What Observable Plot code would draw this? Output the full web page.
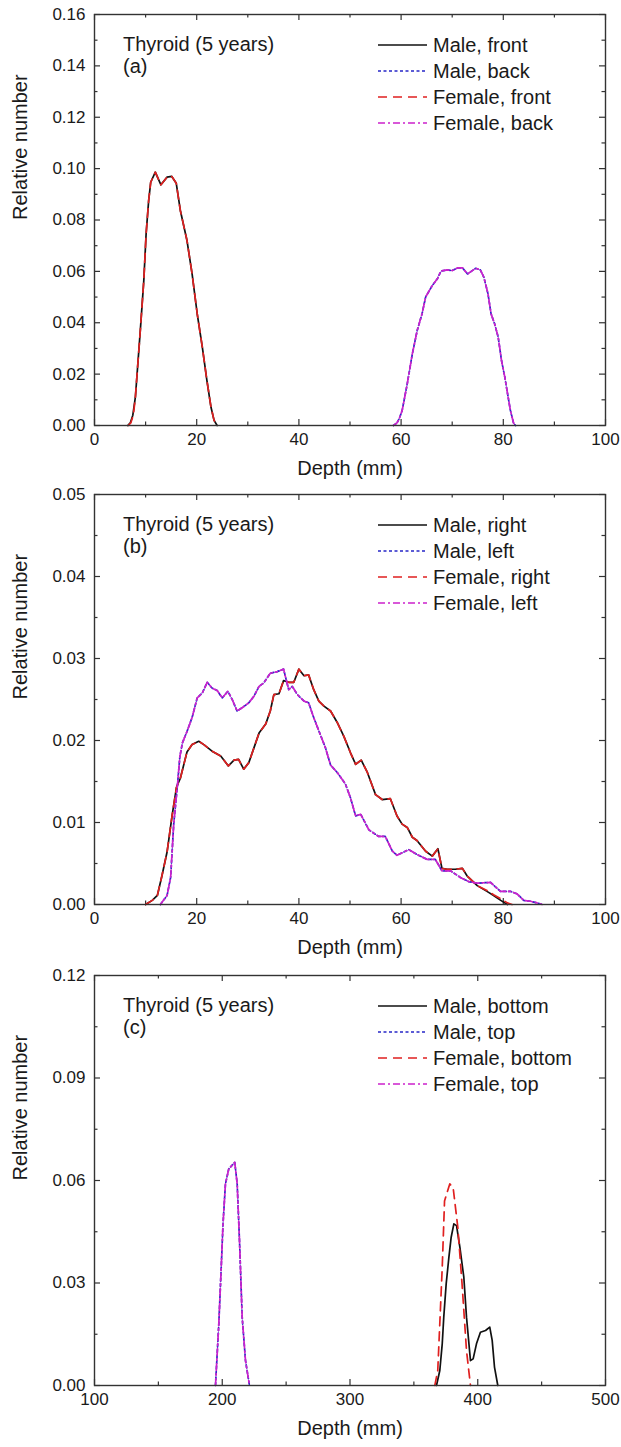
<!DOCTYPE html>
<html><head><meta charset="utf-8">
<script src="https://cdn.jsdelivr.net/npm/d3@7"></script>
<script src="https://cdn.jsdelivr.net/npm/@observablehq/plot@0.6"></script>
<style>
html,body{margin:0;padding:0;background:#fff;}
#chart svg{display:block;}
</style></head><body><div id="chart"></div>
<script>
const FONT = "Arial, 'Liberation Sans', Helvetica, sans-serif";

// ---------- text ----------
const panelTitle = "Thyroid (5 years)";
const panelTags = ["(a)", "(b)", "(c)"];
const legendA = ["Male, front", "Male, back", "Female, front", "Female, back"];
const legendB = ["Male, right", "Male, left", "Female, right", "Female, left"];
const legendC = ["Male, bottom", "Male, top", "Female, bottom", "Female, top"];
const xTitle = "Depth (mm)";
const yTitle = "Relative number";

// ---------- ticks ----------
const xMajorAB = [0, 20, 40, 60, 80, 100];
const xMinorAB = [10, 30, 50, 70, 90];
const yMajorA = [0, 0.02, 0.04, 0.06, 0.08, 0.10, 0.12, 0.14, 0.16];
const yMinorA = [0.01, 0.03, 0.05, 0.07, 0.09, 0.11, 0.13, 0.15];
const yMajorB = [0, 0.01, 0.02, 0.03, 0.04, 0.05];
const yMinorB = [0.005, 0.015, 0.025, 0.035, 0.045];
const xMajorC = [100, 200, 300, 400, 500];
const xMinorC = [150, 250, 350, 450];
const yMajorC = [0, 0.03, 0.06, 0.09, 0.12];
const yMinorC = [0.015, 0.045, 0.075, 0.105];

// ---------- data: [depth mm, relative number] ----------
const aMaleFront = [[6.5,0],[7.0,0.001],[7.5,0.004],[8.0,0.011],[9.0,0.038],[9.65,0.0565],[10.1,0.0746],[10.6,0.0876],[11.0,0.0947],[11.9,0.0986],[13.0,0.0937],[14.2,0.0967],[15.1,0.097],[16.0,0.0943],[16.8,0.0837],[18.1,0.072],[19.1,0.059],[20.1,0.0435],[21.1,0.0305],[22.0,0.0175],[22.8,0.0071],[23.4,0.002],[24.0,0]];
const aFemaleFront = [[6.6,0],[7.1,0.001],[7.6,0.004],[8.0,0.011],[9.0,0.038],[9.65,0.0565],[10.1,0.0746],[10.6,0.0876],[11.0,0.0947],[11.9,0.0986],[13.0,0.0937],[14.2,0.0967],[15.1,0.097],[16.0,0.0943],[16.8,0.0837],[18.1,0.072],[19.1,0.059],[20.1,0.0435],[21.1,0.0305],[22.0,0.0175],[22.8,0.0071],[23.4,0.002],[24.0,0]];
const aMaleBack = [[58.5,0],[59.2,0.001],[59.7,0.003],[60.2,0.0058],[61.2,0.0162],[62.2,0.0279],[63.15,0.037],[64.1,0.0435],[64.8,0.05],[66.1,0.0545],[67.1,0.0571],[67.8,0.0601],[69.0,0.0606],[70.0,0.0603],[71.1,0.0614],[72.0,0.0614],[73.0,0.059],[74.6,0.0612],[75.5,0.0606],[76.2,0.0577],[77.0,0.0513],[77.6,0.0435],[78.3,0.0396],[79.0,0.0344],[79.65,0.0253],[80.3,0.0188],[80.95,0.011],[81.4,0.0058],[82.0,0.001],[82.4,0]];
const aFemaleBack = [[58.5,0],[59.2,0.001],[59.7,0.003],[60.2,0.0058],[61.2,0.0162],[62.2,0.0279],[63.15,0.037],[64.1,0.0435],[64.8,0.05],[66.1,0.0545],[67.1,0.0571],[67.8,0.0601],[69.0,0.0606],[70.0,0.0603],[71.1,0.0614],[72.0,0.0614],[73.0,0.059],[74.6,0.0612],[75.5,0.0606],[76.2,0.0577],[77.0,0.0513],[77.6,0.0435],[78.3,0.0396],[79.0,0.0344],[79.65,0.0253],[80.3,0.0188],[80.95,0.011],[81.4,0.0058],[82.0,0.001],[82.4,0]];

const bMaleRight = [[10.0,0],[11.3,0.0005],[12.3,0.0011],[13.2,0.0035],[14.2,0.0064],[15.2,0.0109],[16.05,0.0143],[16.8,0.0154],[18.1,0.0186],[19.1,0.0195],[20.4,0.0199],[21.4,0.0195],[23.0,0.0187],[24.7,0.0181],[26.2,0.0169],[27.3,0.0176],[28.2,0.0177],[29.2,0.0165],[30.2,0.0173],[31.2,0.0191],[32.2,0.0209],[33.5,0.022],[34.4,0.0236],[35.1,0.0256],[36.1,0.0257],[37.0,0.0273],[38.0,0.0271],[39.0,0.0271],[40.0,0.0287],[41.0,0.0279],[41.9,0.028],[42.9,0.0262],[43.9,0.0248],[44.9,0.0242],[46.2,0.0236],[47.5,0.0222],[48.8,0.0205],[50.1,0.0185],[51.1,0.0171],[52.2,0.0176],[53.4,0.0161],[55.0,0.0134],[56.3,0.0128],[57.9,0.0129],[59.2,0.0108],[60.2,0.0098],[61.2,0.0094],[62.2,0.0082],[63.1,0.0078],[64.8,0.0065],[66.1,0.0059],[67.2,0.0068],[68.0,0.0044],[69.0,0.0043],[70.6,0.0043],[72.0,0.0044],[72.9,0.0035],[74.9,0.0023],[76.8,0.0016],[78.1,0.0011],[79.5,0.0005],[80.8,0]];
const bFemaleRight = [[10.0,0],[11.3,0.0005],[12.3,0.0011],[13.2,0.0035],[14.2,0.0064],[15.2,0.0109],[16.05,0.0143],[16.8,0.0154],[18.1,0.0186],[19.1,0.0195],[20.4,0.0199],[21.4,0.0195],[23.0,0.0187],[24.7,0.0181],[26.2,0.0169],[27.3,0.0176],[28.2,0.0177],[29.2,0.0165],[30.2,0.0173],[31.2,0.0191],[32.2,0.0209],[33.5,0.022],[34.4,0.0236],[35.1,0.0256],[36.1,0.0257],[37.0,0.0273],[38.0,0.0271],[39.0,0.0271],[40.0,0.0287],[41.0,0.0279],[41.9,0.028],[42.9,0.0262],[43.9,0.0248],[44.9,0.0242],[46.2,0.0236],[47.5,0.0222],[48.8,0.0205],[50.1,0.0185],[51.1,0.0171],[52.2,0.0176],[53.4,0.0161],[55.0,0.0134],[56.3,0.0128],[57.9,0.0129],[59.2,0.0108],[60.2,0.0098],[61.2,0.0094],[62.2,0.0082],[63.1,0.0078],[64.8,0.0065],[66.1,0.0059],[67.2,0.0068],[68.0,0.0044],[69.0,0.0043],[70.6,0.0043],[72.0,0.0044],[72.9,0.0035],[74.9,0.0023],[76.8,0.0017],[78.1,0.0012],[79.5,0.0007],[80.8,0.0002],[81.7,0]];
const bMaleLeft = [[12.9,0],[14.2,0.0011],[14.9,0.0033],[15.5,0.0098],[16.2,0.0143],[16.7,0.018],[17.2,0.0197],[18.1,0.0211],[19.1,0.0228],[20.1,0.0252],[21.1,0.0258],[22.05,0.0271],[23.0,0.0264],[24.0,0.0261],[25.0,0.0252],[26.1,0.026],[26.95,0.025],[27.9,0.0236],[28.9,0.024],[30.2,0.0246],[31.2,0.0254],[32.2,0.0266],[33.1,0.027],[34.4,0.0282],[35.75,0.0284],[37.0,0.0287],[38.0,0.0262],[38.7,0.0266],[39.7,0.0256],[41.0,0.0248],[41.9,0.0246],[42.9,0.0228],[44.2,0.0207],[45.2,0.0191],[46.2,0.017],[47.5,0.0161],[49.1,0.0147],[50.1,0.013],[51.1,0.0108],[52.1,0.011],[53.7,0.0091],[55.6,0.0083],[56.9,0.0083],[58.3,0.0065],[59.2,0.006],[61.5,0.0067],[63.1,0.0061],[65.1,0.0055],[66.7,0.0055],[68.0,0.0041],[69.7,0.0041],[71.6,0.0033],[73.2,0.0028],[74.9,0.0026],[77.5,0.0027],[79.45,0.0016],[81.4,0.0016],[82.7,0.0013],[84.0,0.0005],[85.3,0.0004],[86.6,0.0002],[87.6,0]];
const bFemaleLeft = [[12.9,0],[14.2,0.0011],[14.9,0.0033],[15.5,0.0098],[16.2,0.0143],[16.7,0.018],[17.2,0.0197],[18.1,0.0211],[19.1,0.0228],[20.1,0.0252],[21.1,0.0258],[22.05,0.0271],[23.0,0.0264],[24.0,0.0261],[25.0,0.0252],[26.1,0.026],[26.95,0.025],[27.9,0.0236],[28.9,0.024],[30.2,0.0246],[31.2,0.0254],[32.2,0.0266],[33.1,0.027],[34.4,0.0282],[35.75,0.0284],[37.0,0.0287],[38.0,0.0262],[38.7,0.0266],[39.7,0.0256],[41.0,0.0248],[41.9,0.0246],[42.9,0.0228],[44.2,0.0207],[45.2,0.0191],[46.2,0.017],[47.5,0.0161],[49.1,0.0147],[50.1,0.013],[51.1,0.0108],[52.1,0.011],[53.7,0.0091],[55.6,0.0083],[56.9,0.0083],[58.3,0.0065],[59.2,0.006],[61.5,0.0067],[63.1,0.0061],[65.1,0.0055],[66.7,0.0055],[68.0,0.0041],[69.7,0.0041],[71.6,0.0033],[73.2,0.0028],[74.9,0.0026],[77.5,0.0027],[79.45,0.0016],[81.4,0.0016],[82.7,0.0013],[84.0,0.0005],[85.3,0.0004],[86.6,0.0002],[87.6,0]];

const cMaleBottom = [[367.7,0],[370.3,0.0044],[372.2,0.0122],[373.4,0.02],[375.3,0.0298],[377.4,0.0375],[379.2,0.0434],[381.3,0.0473],[383.4,0.0468],[386.0,0.0405],[389.1,0.0317],[391.2,0.02],[394.3,0.0073],[396.4,0.0078],[399.0,0.0122],[402.1,0.0156],[406.1,0.0161],[409.4,0.0171],[411.3,0.0132],[413.1,0.0054],[415.7,0]];
const cMaleTop = [[194.7,0],[197.3,0.018],[199.2,0.0346],[200.6,0.0473],[202.5,0.059],[205.1,0.0634],[209.8,0.0653],[211.7,0.059],[213.5,0.0424],[215.6,0.02],[218.2,0.0073],[221.3,0]];
const cFemaleBottom = [[366.4,0],[368.7,0.0044],[372.2,0.0346],[374.0,0.054],[378.1,0.059],[380.7,0.058],[384.4,0.0463],[387.7,0.0298],[391.2,0.0102],[394.3,0]];
const cFemaleTop = [[194.7,0],[197.3,0.018],[199.2,0.0346],[200.6,0.0473],[202.5,0.059],[205.1,0.0634],[209.8,0.0653],[211.7,0.059],[213.5,0.0424],[215.6,0.02],[218.2,0.0073],[221.3,0]];

// ---------- series styles (male solid, male dotted, female dashed, female dash-dot) ----------
const seriesStyles = [
  {stroke: "#111111", dash: null, width: 1.7},
  {stroke: "#2626c8", dash: "3,2.5", width: 1.7},
  {stroke: "#e02020", dash: "9,6", width: 1.7},
  {stroke: "#cc22cc", dash: "7,3,2,3", width: 1.7}
];

const W = 621, ML = 94, MR = 16;
const AXIS = "#333";

function legendMark(labels, tag) {
  return (index, scales, values, dims) => {
    const g = d3.create("svg:g")
      .attr("font-family", FONT).attr("font-size", 20).attr("fill", "#1a1a1a")
      .attr("text-anchor", "start");
    const x0 = dims.marginLeft, y0 = dims.marginTop;
    g.append("text").attr("x", x0 + 29).attr("y", y0 + 30).attr("dy", "0.35em").text(panelTitle);
    g.append("text").attr("x", x0 + 29).attr("y", y0 + 52).attr("dy", "0.35em").text(tag);
    labels.forEach((lab, i) => {
      const y = y0 + 31 + 26 * i;
      const s = seriesStyles[i];
      g.append("line").attr("x1", x0 + 284).attr("x2", x0 + 333).attr("y1", y).attr("y2", y)
        .attr("stroke", s.stroke).attr("stroke-width", s.width)
        .attr("stroke-dasharray", s.dash);
      g.append("text").attr("x", x0 + 339).attr("y", y).attr("dy", "0.35em").text(lab);
    });
    return g.node();
  };
}

function panel(o) {
  const innerH = o.height - o.marginTop - o.marginBottom;
  const innerW = W - ML - MR;
  const tk = (vals, len) => [
    Plot.tickX(vals, {x: d => d, insetTop: innerH - len, stroke: AXIS, strokeWidth: 1.2}),
    Plot.tickX(vals, {x: d => d, insetBottom: innerH - len, stroke: AXIS, strokeWidth: 1.2})
  ];
  const tky = (vals, len) => [
    Plot.tickY(vals, {y: d => d, insetRight: innerW - len, stroke: AXIS, strokeWidth: 1.2}),
    Plot.tickY(vals, {y: d => d, insetLeft: innerW - len, stroke: AXIS, strokeWidth: 1.2})
  ];
  return Plot.plot({
    width: W, height: o.height,
    marginLeft: ML, marginRight: MR, marginTop: o.marginTop, marginBottom: o.marginBottom,
    style: {fontFamily: FONT, fontSize: "17px", color: "#1a1a1a", background: "#fff"},
    x: {domain: o.xDomain, label: null},
    y: {domain: o.yDomain, label: null},
    marks: [
      Plot.axisX(o.xMajor, {tickSize: 0, tickPadding: 7, tickFormat: d => String(d), label: null, fontSize: 17}),
      Plot.axisY(o.yMajor, {tickSize: 0, tickPadding: 9, tickFormat: d => d.toFixed(2), label: null, fontSize: 17}),
      ...tk(o.xMajor, 6), ...tk(o.xMinor, 3.5),
      ...tky(o.yMajor, 6), ...tky(o.yMinor, 3.5),
      ...o.series.map((data, i) => Plot.line(data, {
        x: d => d[0], y: d => d[1],
        stroke: seriesStyles[i].stroke, strokeWidth: seriesStyles[i].width,
        strokeDasharray: seriesStyles[i].dash
      })),
      Plot.frame({stroke: AXIS, strokeWidth: 1.4}),
      Plot.text([xTitle], {frameAnchor: "bottom", dy: 49, text: d => d, fontSize: 20, fill: "#1a1a1a"}),
      Plot.text([yTitle], {frameAnchor: "left", dx: -74, rotate: -90, text: d => d, fontSize: 20, fill: "#1a1a1a"}),
      legendMark(o.labels, o.tag)
    ]
  });
}

const chart = document.getElementById("chart");
chart.append(panel({
  series: [aMaleFront, aMaleBack, aFemaleFront, aFemaleBack], labels: legendA, tag: panelTags[0],
  xDomain: [0, 100], yDomain: [0, 0.16], xMajor: xMajorAB, xMinor: xMinorAB, yMajor: yMajorA, yMinor: yMinorA,
  height: 484, marginTop: 14, marginBottom: 59
}));
chart.append(panel({
  series: [bMaleRight, bMaleLeft, bFemaleRight, bFemaleLeft], labels: legendB, tag: panelTags[1],
  xDomain: [0, 100], yDomain: [0, 0.05], xMajor: xMajorAB, xMinor: xMinorAB, yMajor: yMajorB, yMinor: yMinorB,
  height: 480, marginTop: 10, marginBottom: 60
}));
chart.append(panel({
  series: [cMaleBottom, cMaleTop, cFemaleBottom, cFemaleTop], labels: legendC, tag: panelTags[2],
  xDomain: [100, 500], yDomain: [0, 0.12], xMajor: xMajorC, xMinor: xMinorC, yMajor: yMajorC, yMinor: yMinorC,
  height: 483, marginTop: 11, marginBottom: 62
}));
</script></body></html>
